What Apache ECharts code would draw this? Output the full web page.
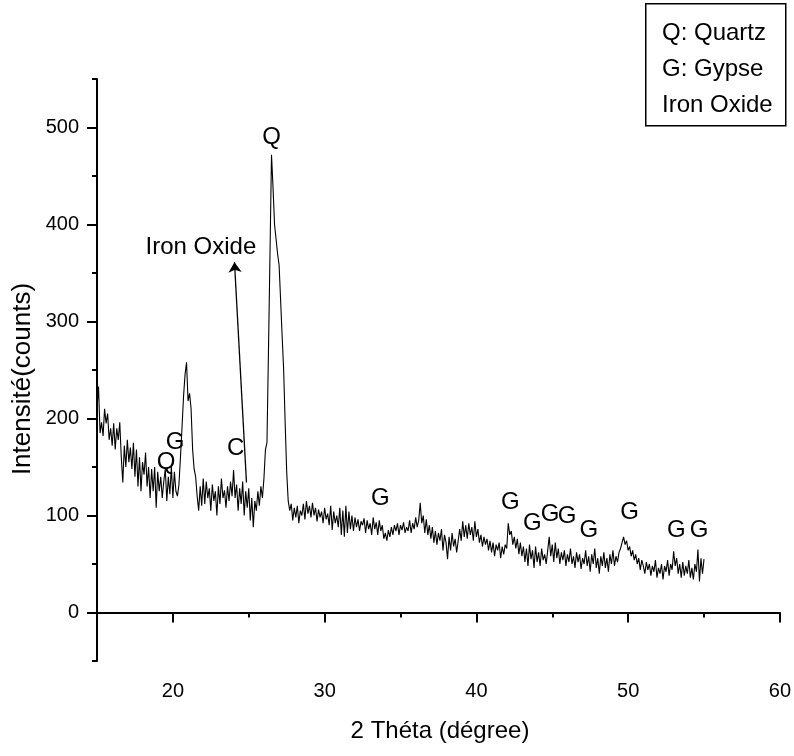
<!DOCTYPE html>
<html>
<head>
<meta charset="utf-8">
<script src="https://cdn.jsdelivr.net/npm/echarts@6/dist/echarts.min.js"></script>
<style>
html,body{margin:0;padding:0;background:#fff;}
#chart{width:794px;height:756px;}
</style>
</head>
<body>
<div id="chart"></div>
<script>
// 2θ grid: 15.0 .. 55.0, step 0.1
const thetaStart = 15.0;
const thetaStep = 0.1;
// Intensity (counts), one row per degree (x.0 .. x.9)
const intensity = [
  210, 233, 185, 196, 182, 210, 195, 205, 178, 190,  // 15
  172, 195, 168, 190, 178, 196, 160, 134, 172, 150,  // 16
  178, 155, 170, 148, 175, 140, 168, 130, 160, 125,  // 17
  155, 142, 165, 130, 150, 118, 148, 125, 150, 108,  // 18
  145, 125, 140, 118, 135, 148, 115, 140, 122, 150,  // 19
  118, 145, 125, 120, 132, 160, 190, 222, 245, 258,  // 20
  218, 226, 210, 168, 148, 140, 120, 105, 130, 110,  // 21
  138, 112, 135, 118, 128, 105, 132, 115, 125, 100,  // 22
  130, 112, 138, 118, 126, 108, 130, 115, 135, 120,  // 23
  147, 118, 132, 105, 128, 112, 135, 100, 125, 108,  // 24
  128,  95, 118,  88, 115, 105, 125, 110, 130, 118,  // 25
  138, 168, 175, 270, 370, 472, 438, 400, 385, 370,  // 26
  358, 322, 285, 250, 195, 145, 115, 105, 112,  95,  // 27
  108,  98, 110,  92, 105, 100, 112,  96, 115, 102,  // 28
  110,  98, 113, 100, 108,  94, 106,  98, 104,  92,  // 29
  108,  96, 102,  90, 110,  85, 104,  92, 100,  88,  // 30
  108,  80, 105,  78, 110,  82, 104,  86, 100,  84,  // 31
   98,  88,  96,  84,  94,  90,  97,  82,  95,  86,  // 32
   92,  80,  98,  86,  93,  80,  95,  84,  90,  76,  // 33
   82,  74,  85,  78,  88,  80,  90,  84,  92,  80,  // 34
   90,  85,  93,  82,  88,  84,  95,  82,  92,  86,  // 35
   98,  88,  95, 113,  92, 100,  82,  96,  80,  90,  // 36
   76,  88,  72,  84,  70,  82,  74,  86,  64,  80,  // 37
   72,  55,  78,  64,  82,  68,  76,  62,  74,  86,  // 38
   74,  94,  78,  90,  76,  92,  80,  88,  74,  94,  // 39
   78,  86,  72,  80,  68,  78,  70,  76,  64,  74,  // 40
   62,  72,  58,  70,  64,  72,  56,  68,  60,  70,  // 41
   66,  92,  80,  84,  70,  78,  66,  76,  60,  72,  // 42
   58,  68,  52,  66,  48,  70,  55,  64,  46,  68,  // 43
   52,  62,  48,  66,  54,  60,  50,  64,  78,  58,  // 44
   70,  52,  72,  56,  66,  50,  62,  54,  64,  48,  // 45
   60,  52,  66,  50,  58,  46,  62,  52,  60,  45,  // 46
   56,  50,  64,  48,  58,  42,  60,  50,  66,  46,  // 47
   56,  40,  58,  48,  62,  46,  56,  42,  60,  50,  // 48
   64,  48,  58,  52,  62,  66,  72,  78,  70,  74,  // 49
   64,  68,  58,  64,  54,  60,  50,  56,  44,  54,  // 50
   48,  40,  52,  44,  50,  38,  48,  42,  54,  36,  // 51
   46,  40,  50,  34,  48,  42,  54,  38,  50,  44,  // 52
   63,  48,  56,  40,  50,  36,  52,  38,  48,  40,  // 53
   54,  36,  46,  34,  50,  42,  65,  32,  56,  40,  // 54
   55                                                // 55.0
];

// Axis ticks / labels
const xMajorTicks = [20, 30, 40, 50, 60];
const xTickLabels = [20, 30, 40, 50, 60];
const yMajorTicks = [0, 100, 200, 300, 400, 500];
const yTickLabels = [0, 100, 200, 300, 400, 500];

// Peak annotations [2θ, intensity, text]
const peakLabels = [
  [19.55, 155, 'Q'], [20.14, 175, 'G'], [24.13, 169, 'C'], [26.5, 490, 'Q'],
  [33.67, 118, 'G'], [42.24, 114, 'G'], [43.68, 92, 'G'], [44.86, 101, 'G'],
  [45.97, 99, 'G'], [47.41, 85, 'G'], [50.1, 103, 'G'], [53.17, 85, 'G'],
  [54.67, 85, 'G'], [21.85, 376, 'Iron Oxide']
];
// Iron oxide arrow (data coordinates)
const arrowFrom = [24.85, 134];
const arrowTo = [24.06, 361];

const legendLines = ['Q: Quartz', 'G: Gypse', 'Iron Oxide'];

const FONT = '"Liberation Sans", Arial, Helvetica, sans-serif';

const seriesData = intensity.map((v, i) => [Math.round((thetaStart + i * thetaStep) * 10) / 10, v]);

const chart = echarts.init(document.getElementById('chart'), null, {renderer: 'canvas'});
chart.setOption({
  animation: false,
  backgroundColor: '#fff',
  grid: {left: 97, right: 10, top: 79, bottom: 95, containLabel: false},
  xAxis: [
    {
      type: 'value', min: 15, max: 60, interval: 5, position: 'bottom',
      axisLine: {show: true, lineStyle: {color: '#000', width: 2}},
      axisTick: {show: true, length: 5, lineStyle: {color: '#000', width: 2}},
      axisLabel: {show: false},
      splitLine: {show: false}
    },
    {
      type: 'value', min: 15, max: 60, position: 'bottom', offset: 0,
      axisLine: {show: false},
      axisTick: {show: true, customValues: xMajorTicks, length: 10, lineStyle: {color: '#000', width: 2}},
      axisLabel: {show: true, customValues: xTickLabels, color: '#000', fontSize: 20, fontFamily: FONT, margin: 20},
      splitLine: {show: false}
    }
  ],
  yAxis: [
    {
      type: 'value', min: -50, max: 550, interval: 50, position: 'left',
      axisLine: {show: true, lineStyle: {color: '#000', width: 2}},
      axisTick: {show: true, length: 5, lineStyle: {color: '#000', width: 2}},
      axisLabel: {show: false},
      splitLine: {show: false}
    },
    {
      type: 'value', min: -50, max: 550, position: 'left', offset: 0,
      axisLine: {show: false},
      axisTick: {show: true, customValues: yMajorTicks, length: 10, lineStyle: {color: '#000', width: 2}},
      axisLabel: {show: true, customValues: yTickLabels, color: '#000', fontSize: 20, fontFamily: FONT, margin: 18},
      splitLine: {show: false}
    }
  ],
  series: [
    {
      type: 'line',
      data: seriesData,
      xAxisIndex: 0, yAxisIndex: 0,
      showSymbol: false, symbol: 'none',
      lineStyle: {color: '#000', width: 1.1},
      silent: true,
      markLine: {
        silent: true,
        symbol: ['none', 'arrow'],
        symbolSize: 10,
        itemStyle: {color: '#000'},
        lineStyle: {color: '#000', width: 1.3, type: 'solid'},
        label: {show: false},
        data: [[{coord: arrowFrom}, {coord: arrowTo}]]
      }
    },
    {
      type: 'scatter',
      xAxisIndex: 0, yAxisIndex: 0,
      symbolSize: 1,
      itemStyle: {color: 'rgba(0,0,0,0)', opacity: 1},
      silent: true,
      data: peakLabels.map(p => ({value: [p[0], p[1]], name: p[2]})),
      label: {
        show: true, position: 'inside', formatter: '{b}', opacity: 1,
        color: '#000', fontSize: 24, fontFamily: FONT
      }
    }
  ],
  graphic: [
    {
      type: 'rect', left: 645, top: 3, z: 10,
      shape: {width: 140, height: 122},
      style: {fill: '#fff', stroke: '#000', lineWidth: 1.5}
    },
    ...legendLines.map((t, i) => ({
      type: 'text', x: 662, y: 33 + i * 36, z: 11,
      style: {text: t, font: '24px ' + FONT, fill: '#000', textAlign: 'left', textVerticalAlign: 'middle'}
    })),
    {
      type: 'text', x: 440, y: 731, z: 11,
      style: {text: '2 Théta (dégree)', font: '24px ' + FONT, fill: '#000', textAlign: 'center', textVerticalAlign: 'middle'}
    },
    {
      type: 'text', x: 23, y: 379, rotation: Math.PI / 2, z: 11,
      style: {text: 'Intensité(counts)', font: '26px ' + FONT, fill: '#000', textAlign: 'center', textVerticalAlign: 'middle'}
    }
  ]
});
</script>
</body>
</html>
